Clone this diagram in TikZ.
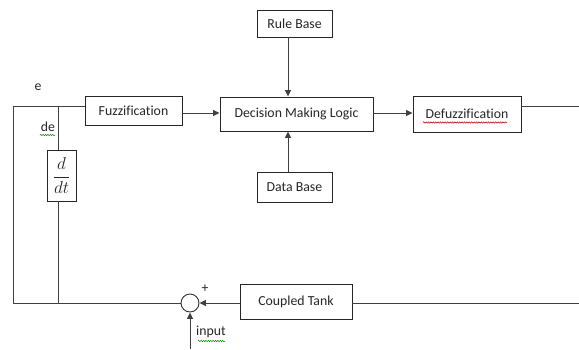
\documentclass[tikz,border=0pt]{standalone}
\usepackage{fontspec}
\setmainfont{Carlito}[Ligatures=NoCommon]
\usetikzlibrary{arrows.meta,decorations.pathmorphing}

\begin{document}
\begin{tikzpicture}[x=1pt,y=-1pt,
  every node/.style={font=\fontsize{13.8}{16}\selectfont, text=black!85},
  blk/.style={draw=black!85, line width=0.9pt, fill=white, inner sep=0pt},
  wire/.style={draw=black!75, line width=1pt},
  arr/.style={wire, -{Triangle[length=6.5pt,width=6pt]}},
  squig/.style={line width=0.5pt, decorate,
    decoration={snake, amplitude=0.7pt, segment length=2.4pt}},
  lbl/.style={inner sep=0pt}]
\useasboundingbox (0,0) rectangle (579,349);

% blocks
\node[blk, minimum width=97pt, minimum height=29pt] (fuz) at (133.5,110.5) {Fuzzification};
\node[blk, minimum width=153pt, minimum height=34pt] (dml) at (296.5,114) {Decision Making Logic};
\node[blk, minimum width=75pt, minimum height=27pt] (rule) at (294.5,23.5) {Rule Base};
\node[blk, minimum width=75pt, minimum height=30pt] (data) at (294.5,187) {Data Base};
\node[blk, minimum width=108pt, minimum height=36pt] (defuz) at (467,114) {Defuzzification};
\node[blk, minimum width=112pt, minimum height=35pt] (tank) at (296,302) {Coupled Tank};
\node[blk, minimum width=29pt, minimum height=51pt] (ddt) at (61.5,175.5)
  {\fontsize{17}{20}\selectfont$\displaystyle\frac{d}{dt}$};
\node[circle, draw=black!80, line width=0.9pt, minimum size=18pt, inner sep=0pt] (sum) at (190,303) {};

% routing points
\coordinate (tl) at (13,106);
\coordinate (bl) at (13,303);
\coordinate (br) at (58,106);
\coordinate (bb) at (58,303);
\coordinate (outr) at (579,106);
\coordinate (fbr) at (579,303);
\coordinate (inp) at (190,349);
\coordinate (rx) at (288,0);

% forward path
\draw[arr] (fuz.east |- 0,113) -- (dml.west |- 0,113);
\draw[arr] (dml.east |- 0,113) -- (defuz.west |- 0,113);
\draw[arr] (rule.south -| rx) -- (dml.north -| rx);
\draw[arr] (data.north -| rx) -- (dml.south -| rx);
\draw[wire] (defuz.east |- outr) -- (outr);

% feedback path
\draw[wire] (fbr) -- (tank.east |- fbr);
\draw[arr] (tank.west |- sum) -- (sum.east);
\draw[wire] (sum.west) -- (bl) -- (tl) -- (fuz.west |- tl);
\draw[wire] (br) -- (ddt.north -| br);
\draw[wire] (ddt.south -| br) -- (bb);
\draw[arr] (inp) -- (sum.south);

% labels
\node[lbl] (le) at (38,87) {e};
\node[lbl] (lde) at (48,127) {de};
\node[lbl] (lplus) at (205,289) {+};
\node[lbl] (lin) at (211,332) {input};

% proofing marks under words
\draw[squig, green!55!black] (40,135) -- (55,135);
\draw[squig, green!55!black] (198,341) -- (225,341);
\draw[squig, red!70!black] (423,122.5) -- (507,122.5);
\end{tikzpicture}
\end{document}
